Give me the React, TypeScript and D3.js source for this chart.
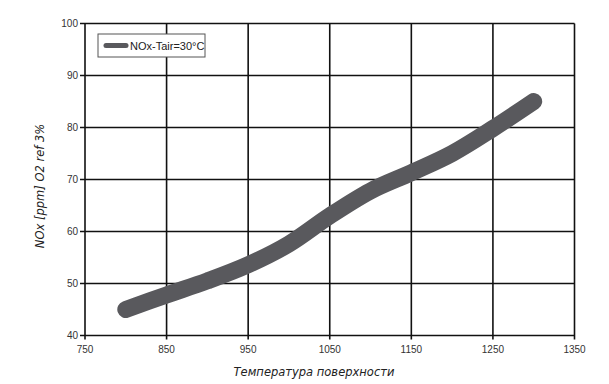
import React from "react";
import * as d3 from "d3";

const temps = [800, 850, 900, 950, 1000, 1050, 1100, 1150, 1200, 1250, 1300];
const nox = [45, 47.8, 50.5, 53.6, 57.6, 63, 67.8, 71.3, 75, 79.8, 85];
const xTicks = [750, 850, 950, 1050, 1150, 1250, 1350];
const yTicks = [40, 50, 60, 70, 80, 90, 100];
const seriesName = "NOx-Tair=30°C";
const xTitle = "Температура поверхности";
const yTitle = "NOx [ppm] O2 ref 3%";

export default function App() {
  const W = 609, H = 384;
  const left = 85, right = 574.5, top = 23.5, bottom = 335.5;
  const x = d3.scaleLinear().domain([750, 1350]).range([left, right]);
  const y = d3.scaleLinear().domain([40, 100]).range([bottom, top]);
  const data = temps.map((t, i) => [t, nox[i]] as [number, number]);
  const line = d3.line<[number, number]>().x(d => x(d[0])).y(d => y(d[1])).curve(d3.curveCatmullRom.alpha(0.5));
  const font = "Arial, 'Liberation Sans', sans-serif";
  const tfont = "'DejaVu Sans', Verdana, sans-serif";
  return (
    <svg width={W} height={H} style={{ position: "absolute", left: 0, top: 0, background: "#fff" }}>
      <rect x={0} y={0} width={W} height={H} fill="#fff" />
      {xTicks.map(t => (
        <line key={"vx" + t} x1={x(t)} x2={x(t)} y1={top} y2={bottom + 4} stroke="#111" strokeWidth={1.6} />
      ))}
      {yTicks.map(t => (
        <line key={"hy" + t} x1={left - 5} x2={right} y1={y(t)} y2={y(t)} stroke="#111" strokeWidth={1.6} />
      ))}
      {xTicks.map(t => (
        <text key={"xl" + t} x={x(t)} y={bottom + 17} textAnchor="middle" fontFamily={font} fontSize={10} fill="#333">{t}</text>
      ))}
      {yTicks.map(t => (
        <text key={"yl" + t} x={left - 7} y={y(t) + 3.5} textAnchor="end" fontFamily={font} fontSize={10} fill="#333">{t}</text>
      ))}
      <path d={line(data) || ""} fill="none" stroke="#59595d" strokeWidth={17} strokeLinecap="round" strokeLinejoin="round" />
      <rect x={98} y={34} width={107} height={23} fill="#fff" stroke="#555" strokeWidth={1} />
      <line x1={106} x2={126} y1={45.5} y2={45.5} stroke="#59595d" strokeWidth={5} strokeLinecap="round" />
      <text x={130} y={49.5} fontFamily={font} fontSize={11} fill="#222">{seriesName}</text>
      <text x={314} y={376} textAnchor="middle" fontFamily={tfont} fontStyle="italic" fontSize={11.5} fill="#222">{xTitle}</text>
      <text transform={`translate(44, 186) rotate(-90)`} textAnchor="middle" fontFamily={tfont} fontStyle="italic" fontSize={11.5} fill="#222">{yTitle}</text>
    </svg>
  );
}
